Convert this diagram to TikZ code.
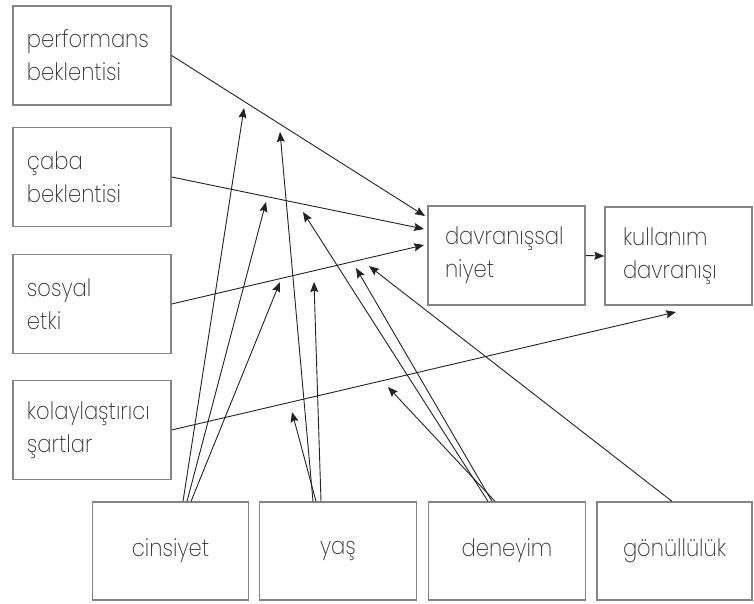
\documentclass[tikz,border=0pt]{standalone}
\usepackage{fontspec}
\setmainfont{Poppins}[UprightFont={* ExtraLight}, FakeStretch=0.88]
\usetikzlibrary{arrows.meta}
\definecolor{boxgray}{HTML}{858585}
\definecolor{txtgray}{HTML}{333333}
\definecolor{arrgray}{HTML}{222222}
\hyphenpenalty=10000
\exhyphenpenalty=10000
\begin{document}
\begin{tikzpicture}[x=1pt,y=-1pt,
  box/.style={draw=boxgray, line width=1.3pt, rectangle, inner ysep=0pt,
    text=txtgray, font=\fontsize{24}{33}\selectfont},
  lbox/.style={box, align=left, inner xsep=14pt, text width=130pt, minimum height=99pt},
  bbox/.style={box, align=center, minimum height=98pt},
  conn/.style={draw=arrgray, line width=0.9pt, -{Stealth[length=10pt,width=8pt,inset=1.5pt]}}
]
\useasboundingbox (0,0) rectangle (754,603);
% left boxes
\node[lbox] (perf) at (92,55.5) {performans\\beklentisi};
\node[lbox] (caba) at (92,177) {çaba\\beklentisi};
\node[lbox] (sosyal) at (92,304) {sosyal\\etki};
\node[lbox] (kolay) at (92,430) {kolaylaştırıcı\\şartlar};
% middle boxes
\node[box, align=left, inner xsep=17pt, text width=123pt, minimum height=99pt] (niyet) at (506.5,255.5) {davranışsal\\niyet};
\node[box, align=left, inner xsep=18pt, text width=111pt, minimum height=98pt] (kull) at (678.5,256) {\raisebox{4pt}{kullanım}\\\raisebox{4pt}{davranışı}};
% bottom boxes
\node[bbox, minimum width=156pt] (cins) at (170.5,551) {cinsiyet};
\node[bbox, minimum width=157pt] (yas) at (338,551) {yaş};
\node[bbox, minimum width=157pt] (den) at (507,551) {deneyim};
\node[bbox, minimum width=155pt] (gon) at (674.5,551) {gönüllülük};
% free arrow ends
\coordinate (n1) at (425,216);
\coordinate (n2) at (424,229);
\coordinate (n3) at (424,245);
\coordinate (k1) at (676,312);
\coordinate (c1) at (244,108);
\coordinate (c2) at (266,202);
\coordinate (c3) at (280,282);
\coordinate (y1) at (280,132);
\coordinate (y2) at (314,282);
\coordinate (y3) at (292,412);
\coordinate (d1) at (303,212);
\coordinate (d2) at (356,268);
\coordinate (d3) at (388,387);
\coordinate (g1) at (369,266);
% connectors
\draw[conn] (perf.east) -- (n1);
\draw[conn] (caba.east) -- (n2);
\draw[conn] (sosyal.east) -- (n3);
\draw[conn] (kolay.east) -- (k1);
\draw[conn] (niyet.east) -- (kull.west);
\draw[conn] ([xshift=12.5pt]cins.north) -- (c1);
\draw[conn] ([xshift=16.5pt]cins.north) -- (c2);
\draw[conn] ([xshift=20.5pt]cins.north) -- (c3);
\draw[conn] ([xshift=-25pt]yas.north) -- (y1);
\draw[conn] ([xshift=-17pt]yas.north) -- (y2);
\draw[conn] ([xshift=-22pt]yas.north) -- (y3);
\draw[conn] ([xshift=-19pt]den.north) -- (d1);
\draw[conn] ([xshift=-15pt]den.north) -- (d2);
\draw[conn] ([xshift=-12pt]den.north) -- (d3);
\draw[conn] ([xshift=-2.5pt]gon.north) -- (g1);
\end{tikzpicture}
\end{document}
